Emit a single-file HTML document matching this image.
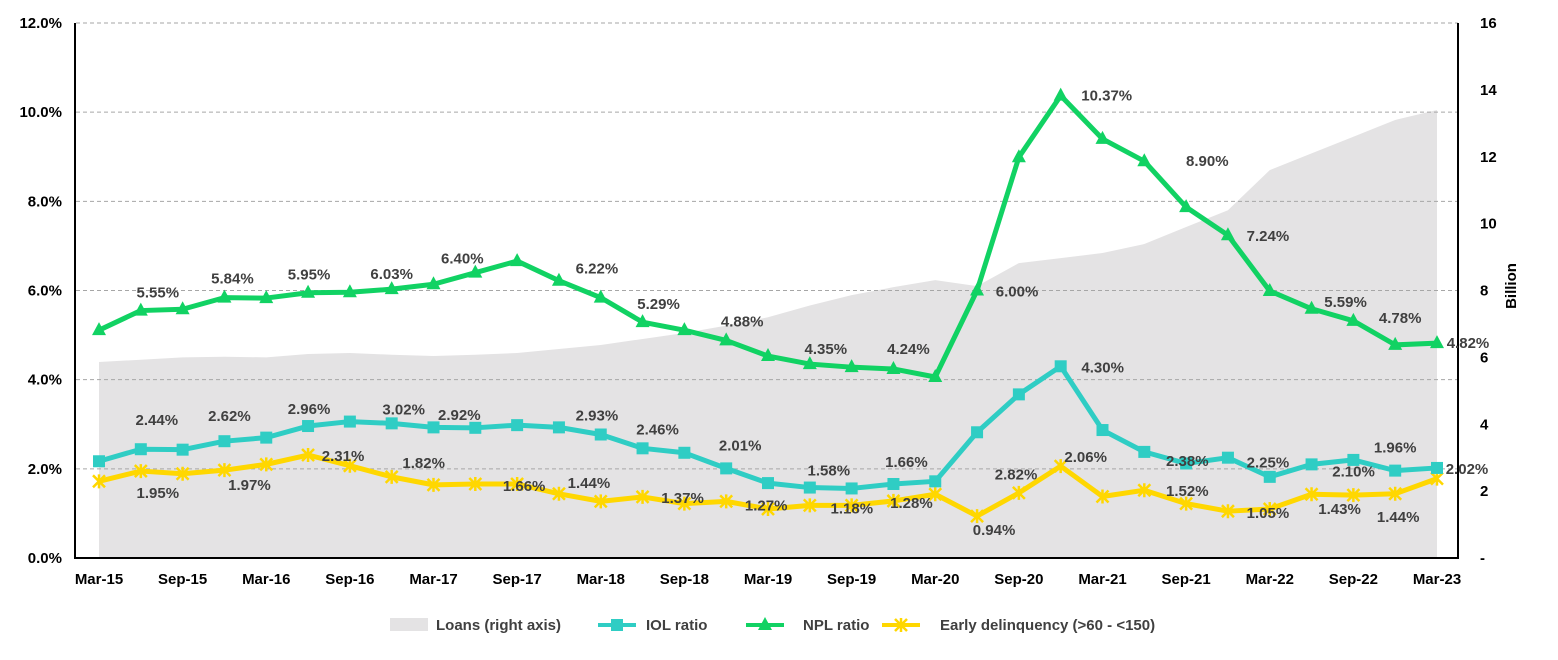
<!DOCTYPE html>
<html><head><meta charset="utf-8"><style>
body{margin:0;background:#fff;}
svg text{font-family:"Liberation Sans",sans-serif;font-weight:bold;}
</style></head><body>
<svg id="c" width="1558" height="655" xmlns="http://www.w3.org/2000/svg"></svg>
<script>
const categories=["Mar-15","Jun-15","Sep-15","Dec-15","Mar-16","Jun-16","Sep-16","Dec-16","Mar-17","Jun-17","Sep-17","Dec-17","Mar-18","Jun-18","Sep-18","Dec-18","Mar-19","Jun-19","Sep-19","Dec-19","Mar-20","Jun-20","Sep-20","Dec-20","Mar-21","Jun-21","Sep-21","Dec-21","Mar-22","Jun-22","Sep-22","Dec-22","Mar-23"];
const loans=[5.86,5.93,6.0,6.02,6.0,6.1,6.13,6.08,6.04,6.08,6.13,6.25,6.37,6.55,6.73,6.95,7.2,7.55,7.86,8.1,8.31,8.13,8.82,8.97,9.12,9.39,9.9,10.4,11.6,12.1,12.6,13.1,13.4];
const npl=[5.11,5.55,5.58,5.84,5.83,5.95,5.96,6.03,6.14,6.40,6.66,6.22,5.84,5.29,5.11,4.88,4.53,4.35,4.28,4.24,4.06,6.00,8.99,10.37,9.40,8.90,7.87,7.24,5.99,5.59,5.32,4.78,4.82];
const iol=[2.17,2.44,2.43,2.62,2.70,2.96,3.06,3.02,2.93,2.92,2.98,2.93,2.77,2.46,2.36,2.01,1.68,1.58,1.56,1.66,1.72,2.82,3.67,4.30,2.87,2.38,2.12,2.25,1.82,2.10,2.20,1.96,2.02];
const early=[1.72,1.95,1.89,1.97,2.10,2.31,2.07,1.82,1.64,1.66,1.66,1.44,1.27,1.37,1.22,1.27,1.10,1.18,1.18,1.28,1.43,0.94,1.46,2.06,1.38,1.52,1.22,1.05,1.10,1.43,1.41,1.44,1.78];
const leftTicks=["0.0%","2.0%","4.0%","6.0%","8.0%","10.0%","12.0%"];
const rightTicks=["-","2","4","6","8","10","12","14","16"];
const xTickLabels=["Mar-15","Sep-15","Mar-16","Sep-16","Mar-17","Sep-17","Mar-18","Sep-18","Mar-19","Sep-19","Mar-20","Sep-20","Mar-21","Sep-21","Mar-22","Sep-22","Mar-23"];
// label placements: [index, dx, dy]
const nplLabels=[[1,17,-18],[3,8,-19],[5,1,-18],[7,0,-15],[9,-13,-14],[11,38,-12],[13,16,-18],[15,16,-19],[17,16,-15],[19,15,-20],[21,40,1],[23,46,0],[25,63,0],[27,40,1],[29,34,-7],[31,5,-27],[32,31,0]];
const iolLabels=[[1,16,-29],[3,5,-25],[5,1,-17],[7,12,-14],[9,-16,-13],[11,38,-12],[13,15,-19],[15,14,-23],[17,19,-17],[19,13,-22],[21,39,42],[23,42,1],[25,43,9],[27,40,5],[29,42,7],[31,0,-23],[32,30,1]];
const earlyLabels=[[1,17,22],[3,25,15],[5,35,1],[7,32,-14],[10,7,2],[11,30,-11],[13,40,1],[15,40,4],[17,42,3],[19,18,2],[21,17,14],[23,25,-9],[25,43,1],[27,40,2],[29,28,15],[31,3,23]];

const NS="http://www.w3.org/2000/svg",svg=document.getElementById('c');
const X0=99,X1=1437,YB=558,YT=23;
const xs=i=>X0+(X1-X0)*i/(categories.length-1);
const yl=v=>YB-(YB-YT)*v/12;
const yr=v=>YB-(YB-YT)*v/16;
function mk(t,a,p){const e=document.createElementNS(NS,t);for(const k in a)e.setAttribute(k,a[k]);(p||svg).appendChild(e);return e;}
let d=`M${xs(0)},${YB}`;loans.forEach((v,i)=>d+=`L${xs(i)},${yr(v)}`);d+=`L${xs(loans.length-1)},${YB}Z`;
const area=mk('path',{d,fill:'#e4e3e4'});


leftTicks.forEach((t,i)=>{const y=yl(i*2);
 if(i>0){const g=mk('line',{x1:76,x2:1458,y1:y,y2:y,stroke:'#a6a6a6','stroke-dasharray':'4,3','stroke-width':1});
 
 }
 const tx=mk('text',{x:62,y:y+5,'text-anchor':'end','font-size':15,fill:'#000'});tx.textContent=t;
 
 });
rightTicks.forEach((t,i)=>{const tx=mk('text',{x:1480,y:yr(i*2)+5,'text-anchor':'start','font-size':15,fill:'#000'});tx.textContent=t;
 
 });
const la=mk('line',{x1:75,x2:75,y1:YT,y2:YB+1,stroke:'#000','stroke-width':2});

const ra=mk('line',{x1:1458,x2:1458,y1:YT,y2:YB+1,stroke:'#000','stroke-width':2});

const ba=mk('line',{x1:75,x2:1458,y1:YB,y2:YB,stroke:'#000','stroke-width':2});

const bt=mk('text',{x:0,y:0,'font-size':15,fill:'#000',transform:'translate(1516,286) rotate(-90)','text-anchor':'middle'});bt.textContent='Billion';

xTickLabels.forEach((t,i)=>{const tx=mk('text',{x:xs(i*2),y:584,'text-anchor':'middle','font-size':15,fill:'#000'});tx.textContent=t;
 });
function marker(type,x,y,col){
 if(type==='sq')return mk('rect',{x:x-6,y:y-6,width:12,height:12,fill:col});
 if(type==='tri')return mk('path',{d:`M${x},${y-8}L${x+7},${y+5}L${x-7},${y+5}Z`,fill:col});
 return mk('path',{d:`M${x-6},${y-6}L${x+6},${y+6}M${x+6},${y-6}L${x-6},${y+6}M${x},${y-7}L${x},${y+7}`,stroke:col,'stroke-width':2.5});
}
function series(vals,col,type,name,labels){
 const p=mk('polyline',{points:vals.map((v,i)=>xs(i)+','+yl(v)).join(' '),fill:'none',stroke:col,'stroke-width':5,'stroke-linejoin':'round'});
 
 vals.forEach((v,i)=>{const m=marker(type,xs(i),yl(v),col);
  });
 labels.forEach(([i,dx,dy])=>{const t=mk('text',{x:xs(i)+dx,y:yl(vals[i])+dy+5,'text-anchor':'middle','font-size':15,fill:'#404040'});
  t.textContent=vals[i].toFixed(2)+'%';
  });
}
series(early,'#ffd700','star','early-delinquency',earlyLabels);
series(iol,'#2fcdc4','sq','iol-ratio',iolLabels);
series(npl,'#11d263','tri','npl-ratio',nplLabels);
const lg=mk('g',{});
const r=mk('rect',{x:390,y:618,width:38,height:13,fill:'#e4e3e4'},lg);
const items=[[436,'Loans (right axis)'],[646,'IOL ratio'],[803,'NPL ratio'],[940,'Early delinquency (>60 - <150)']];
const sw=[[598,'#2fcdc4','sq'],[746,'#11d263','tri'],[882,'#ffd700','star']];
sw.forEach(([x,c,t])=>{const l=mk('line',{x1:x,x2:x+38,y1:625,y2:625,stroke:c,'stroke-width':4},lg);
 
 const m=marker(t,x+19,625,c);lg.appendChild(m);});
items.forEach(([x,s])=>{const t=mk('text',{x,y:630,'font-size':15,fill:'#404040'},lg);t.textContent=s;
 });
</script>
</body></html>
